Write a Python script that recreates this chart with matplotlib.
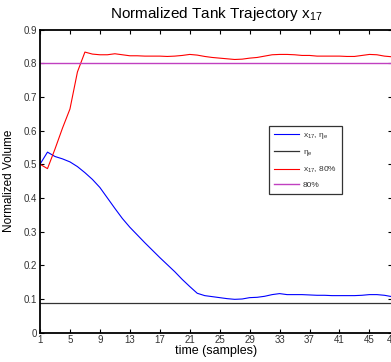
import numpy as np
import matplotlib
matplotlib.use('Agg')
import matplotlib.pyplot as plt

plt.rcParams['font.family'] = ['Liberation Sans', 'DejaVu Sans']
plt.rcParams['mathtext.default'] = 'regular'

# data
t = np.arange(1, 49)
x17_eta = [0.500, 0.536, 0.523, 0.516, 0.507, 0.493, 0.475, 0.455, 0.431, 0.400,
           0.369, 0.339, 0.313, 0.290, 0.267, 0.245, 0.223, 0.202, 0.181, 0.158,
           0.137, 0.117, 0.110, 0.107, 0.104, 0.101, 0.099, 0.100, 0.104, 0.105,
           0.108, 0.113, 0.116, 0.113, 0.113, 0.113, 0.112, 0.111, 0.111, 0.110,
           0.110, 0.110, 0.110, 0.111, 0.113, 0.113, 0.111, 0.107]
x17_80 = [0.500, 0.487, 0.545, 0.607, 0.664, 0.774, 0.833, 0.827, 0.825, 0.825,
          0.828, 0.825, 0.822, 0.822, 0.821, 0.821, 0.821, 0.820, 0.821, 0.823,
          0.826, 0.824, 0.820, 0.817, 0.815, 0.813, 0.811, 0.812, 0.815, 0.817,
          0.821, 0.825, 0.826, 0.826, 0.825, 0.823, 0.823, 0.821, 0.821, 0.821,
          0.821, 0.820, 0.820, 0.823, 0.826, 0.825, 0.821, 0.819]
eta_e = 0.089
target = 0.80

xticks = [1, 5, 9, 13, 17, 21, 25, 29, 33, 37, 41, 45, 48]
yticks = [0, 0.1, 0.2, 0.3, 0.4, 0.5, 0.6, 0.7, 0.8, 0.9]

fig = plt.figure(figsize=(3.91, 3.62), dpi=100)
ax = fig.add_axes([0.1023, 0.081, 0.9, 0.8375])

ax.plot(t, x17_eta, color='#0000ff', lw=0.8, label=r'x$_{17}$, η$_e$')
ax.plot(t, [eta_e]*len(t), color='#333333', lw=0.9, label=r'η$_e$')
ax.plot(t, x17_80, color='#ff0000', lw=0.8, label=r'x$_{17}$, 80%')
ax.plot(t, [target]*len(t), color='#c040c0', lw=1.0, label='80%')

ax.set_xlim(1, 48)
ax.set_ylim(0, 0.9)
ax.set_xticks(xticks)
ax.set_yticks(yticks)
ax.set_yticklabels(['0', '0.1', '0.2', '0.3', '0.4', '0.5', '0.6', '0.7', '0.8', '0.9'])
ax.tick_params(direction='in', top=True, right=True, length=3, width=0.8,
               labelsize=7, labelcolor='#333333', pad=2)
for s in ax.spines.values():
    s.set_linewidth(1.3)
    s.set_color('black')

ax.set_title(r'Normalized Tank Trajectory x$_{17}$', fontsize=11, pad=8)
ax.set_xlabel('time (samples)', fontsize=9, labelpad=0)
ax.set_ylabel('Normalized Volume', fontsize=8.5, labelpad=6)

leg = ax.legend(loc='upper left', bbox_to_anchor=(0.64, 0.695), fontsize=6,
                frameon=True, fancybox=False, edgecolor='black', handlelength=3.0,
                borderpad=0.6, labelspacing=0.8, handletextpad=0.4)
leg.get_frame().set_linewidth(0.9)
for txt in leg.get_texts():
    txt.set_color('#333333')

fig.savefig('out.png', dpi=100)
